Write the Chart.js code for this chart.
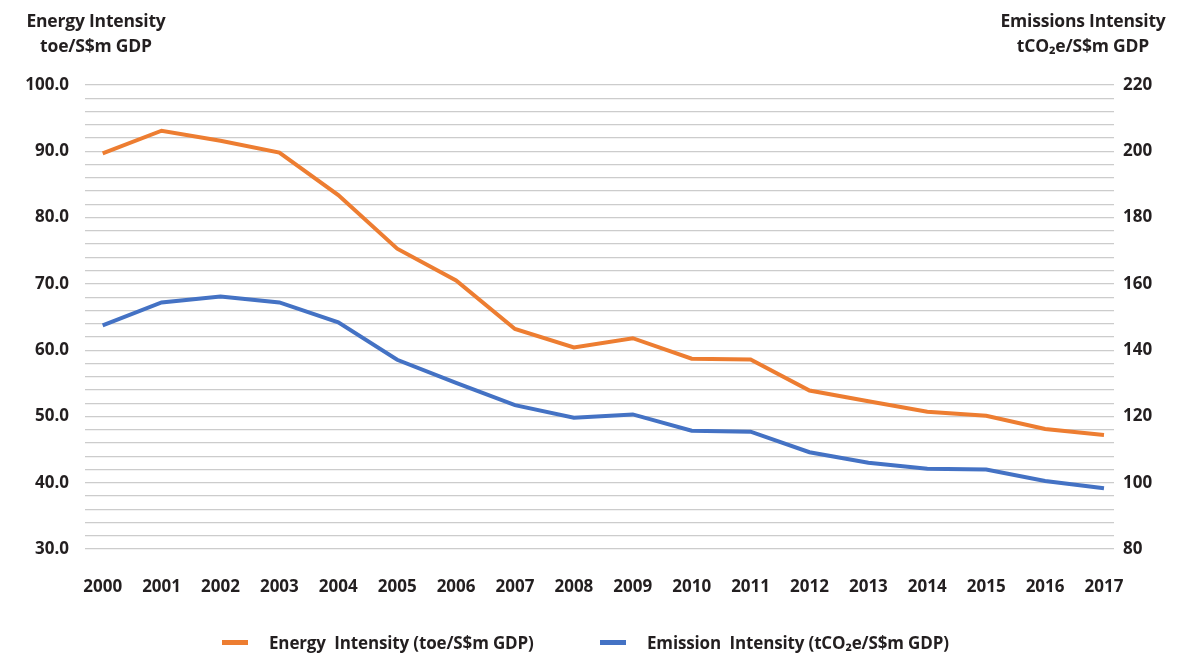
<!DOCTYPE html>
<html>
<head>
<meta charset="utf-8">
<script src="https://cdn.jsdelivr.net/npm/chart.js@4.4.1/dist/chart.umd.min.js"></script>
<style>
  body { margin: 0; background: #fff; font-family: "Open Sans", sans-serif; color: #231f20; }
  #wrap { position: relative; width: 1198px; height: 657px; }
  #chart { position: absolute; left: 0; top: 0; }
  .axtitle { position: absolute; font-weight: 700; font-size: 17.5px; line-height: 25px; text-align: center; white-space: nowrap; letter-spacing: -0.2px; }
  #legend { position: absolute; top: 631px; left: 0; width: 1198px; font-weight: 700; font-size: 17px; letter-spacing: -0.15px; }
  .item { position: absolute; display: flex; align-items: center; white-space: nowrap; }
  .mark { width: 26px; height: 5px; margin-right: 21px; }
</style>
</head>
<body>
<div id="wrap">
  <canvas id="chart" width="1198" height="657"></canvas>
  <div class="axtitle" style="left:6px; top:8px; width:180px;">Energy Intensity<br>toe/S$m GDP</div>
  <div class="axtitle" style="left:983px; top:8px; width:200px;">Emissions Intensity<br>tCO₂e/S$m GDP</div>
  <div id="legend"></div>
</div>
<script>
// years on the x axis
const years = [2000, 2001, 2002, 2003, 2004, 2005, 2006, 2007, 2008,
               2009, 2010, 2011, 2012, 2013, 2014, 2015, 2016, 2017];

// toe per S$m GDP (left axis)
const energyIntensity = [89.7, 93.1, 91.6, 89.8, 83.4, 75.3, 70.5, 63.2, 60.4,
                         61.8, 58.7, 58.6, 53.9, 52.3, 50.7, 50.1, 48.1, 47.2];

// tCO2e per S$m GDP (right axis)
const emissionIntensity = [147.5, 154.4, 156.2, 154.4, 148.4, 137.1, 130.1, 123.4, 119.6,
                           120.6, 115.7, 115.4, 109.2, 106.0, 104.2, 104.0, 100.5, 98.3];

const seriesLabels = ["Energy  Intensity (toe/S$m GDP)", "Emission  Intensity (tCO₂e/S$m GDP)"];
const seriesColors = ["#ed7d31", "#4472c4"];

const txt = "#231f20";
const tickFont = { family: "Open Sans", size: 17, weight: "bold" };

function pts(vals) {
  return years.map((y, i) => ({ x: y, y: vals[i] }));
}

var ctx = document.getElementById("chart").getContext("2d");
var chart = new Chart(ctx, {
  type: "line",
  data: {
    datasets: [
      {
        label: seriesLabels[0],
        data: pts(energyIntensity),
        borderColor: seriesColors[0],
        backgroundColor: seriesColors[0],
        borderWidth: 4,
        pointRadius: 0,
        tension: 0,
        yAxisID: "y",
      },
      {
        label: seriesLabels[1],
        data: pts(emissionIntensity),
        borderColor: seriesColors[1],
        backgroundColor: seriesColors[1],
        borderWidth: 4,
        pointRadius: 0,
        tension: 0,
        yAxisID: "y2",
      },
    ],
  },
  options: {
    responsive: false,
    animation: false,
    layout: { padding: { top: 85, left: 0, right: 0, bottom: 0 } },
    plugins: {
      legend: { display: false },
      tooltip: { enabled: false },
    },
    scales: {
      x: {
        type: "linear",
        min: 1999.70,
        max: 2017.17,
        grid: { display: false },
        border: { display: false },
        afterFit: (s) => { s.height = 108; },
        ticks: {
          stepSize: 1,
          includeBounds: false,
          autoSkip: false,
          maxRotation: 0,
          padding: 20,
          color: txt,
          font: tickFont,
          callback: (v) => (Number.isInteger(v) ? String(v) : ""),
        },
      },
      y: {
        position: "left",
        min: 30,
        max: 100,
        afterFit: (s) => { s.width = 85; },
        border: { display: false },
        grid: { color: "#cccccc", lineWidth: 1.2, drawTicks: false },
        ticks: {
          stepSize: 2,
          autoSkip: false,
          padding: 16,
          color: txt,
          font: tickFont,
          callback: (v) => (v % 10 === 0 ? v.toFixed(1) : ""),
        },
      },
      y2: {
        position: "right",
        min: 80,
        max: 220,
        afterFit: (s) => { s.width = 84; },
        border: { display: false },
        grid: { display: false, drawTicks: false },
        ticks: {
          stepSize: 4,
          autoSkip: false,
          padding: 9,
          color: txt,
          font: tickFont,
          callback: (v) => (v % 20 === 0 ? String(v) : ""),
        },
      },
    },
  },
});

// legend built from the dataset labels / colours
const legendPos = [222, 600];
const legend = document.getElementById("legend");
seriesLabels.forEach((lab, i) => {
  const item = document.createElement("div");
  item.className = "item";
  item.style.left = legendPos[i] + "px";
  item.innerHTML = '<span class="mark" style="background:' + seriesColors[i] + '"></span><span>' + lab.replace(/  /g, "&nbsp; ") + "</span>";
  legend.appendChild(item);
});
</script>
</body>
</html>
